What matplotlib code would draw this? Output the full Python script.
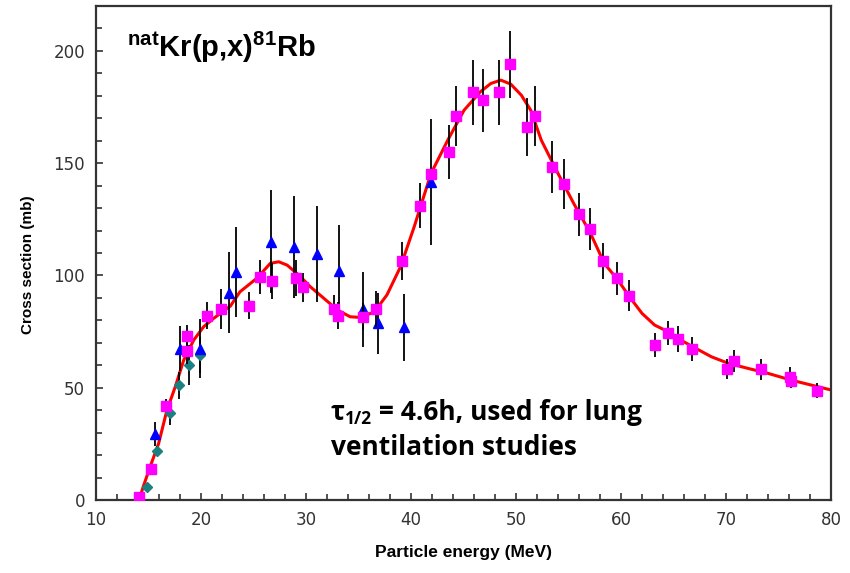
import matplotlib
matplotlib.use("Agg")
import matplotlib.pyplot as plt
from matplotlib import ticker

plt.rcParams['mathtext.fontset'] = 'custom'
plt.rcParams['mathtext.rm'] = 'Liberation Sans:bold'
plt.rcParams['mathtext.it'] = 'Liberation Sans:bold'
plt.rcParams['mathtext.bf'] = 'Liberation Sans:bold'

# magenta squares (energy MeV, cross section mb, error)
sq_x = [14.1, 15.2, 16.7, 18.7, 18.7, 20.6, 21.9, 24.6, 25.6, 26.8, 29.0, 29.7,
        32.7, 33.0, 35.4, 36.7, 39.1, 40.9, 41.9, 43.65, 44.3, 45.9, 46.9, 48.4,
        49.4, 51.0, 51.8, 53.4, 54.6, 56.0, 57.0, 58.3, 59.6, 60.8, 63.2, 64.5,
        65.4, 66.8, 70.1, 70.8, 73.3, 76.1, 76.2, 78.7]
sq_y = [1.3, 14, 42, 73, 66.5, 82, 85, 86.5, 99.4, 97.5, 99, 94.7,
        85.2, 82, 81.6, 85.2, 106.5, 131, 145, 155, 171, 181.5, 178, 181.5,
        194, 166, 171, 148.4, 140.7, 127.2, 120.7, 106.5, 98.7, 91, 69, 74.4,
        71.8, 67.2, 58.3, 61.9, 58.2, 54.8, 53, 48.7]
sq_err = [0, 2, 3, 5, 6, 6, 9, 6, 7.5, 8, 8, 6.5,
          6, 6, 6, 8, 8.5, 10, 0, 12, 13.5, 14.5, 14, 14.5,
          15, 13, 13.5, 11.5, 11, 9.6, 9.3, 8, 7.4, 7, 5.2, 5.5,
          5.8, 5.2, 4.3, 5, 4.6, 4.5, 3, 3.3]

# blue triangles
tri_x = [15.6, 18.0, 19.9, 22.7, 23.3, 26.7, 28.9, 31.0, 33.1, 35.4, 36.9, 39.3, 41.9]
tri_y = [29.4, 67.4, 67.4, 92.3, 101.7, 115, 112.8, 109.5, 102, 85, 78.7, 76.9, 141.7]
tri_err = [5.5, 10, 13, 18, 20, 23, 22.7, 21.5, 20.6, 16.7, 13.7, 15, 28]

# teal diamonds
dia_x = [14.9, 15.85, 17.0, 17.9, 18.9, 19.9]
dia_y = [5.7, 22, 38.6, 51.2, 60, 64.6]
dia_err = [1, 2, 5, 6, 9, 8]

# red fit curve
fit_x = [14.1, 14.5, 15.15, 15.95, 16.75, 17.55, 18.35, 19.3, 20.25, 21.2, 22.8,
         23.7, 25.3, 26.6, 27.4, 28.2, 29.3, 30.4, 31.7, 33.0, 34.2, 35.2, 36.5,
         37.7, 39.0, 40.3, 41.9, 43.5, 45.05, 46.6, 47.6, 48.55, 49.5, 50.5, 51.4,
         52.4, 54.0, 55.5, 57.1, 58.4, 59.7, 60.8, 62.0, 63.2, 64.5, 65.7, 66.7,
         68.6, 70.2, 72.1, 74.0, 76.2, 78.1, 80.0]
fit_y = [0, 6, 14.8, 25, 40, 50.5, 62.3, 71.2, 77.2, 80.9, 86.4,
         92.7, 98.7, 105.4, 106.1, 104.6, 100.2, 95, 89.8, 84.6, 81.6, 81.3, 83.8,
         91.3, 103.9, 121.7, 145.4, 160.3, 173.6, 181.8, 185.5, 187, 185.2, 180.3, 173.6,
         160.3, 145.4, 132, 118.7, 105.4, 98, 90.5, 83.1, 77.9, 74.9, 71.2, 68.6,
         63.8, 60.9, 58.6, 56.4, 53.4, 51.2, 49]

fig = plt.figure(figsize=(8.5, 5.73), dpi=100)
ax = fig.add_axes([0.113, 0.1274, 0.8647, 0.8621])

ax.plot(fit_x, fit_y, color='#ff0000', lw=2.2, zorder=2)
ax.errorbar(dia_x, dia_y, yerr=dia_err, fmt='D', color='#1a8080', ms=5.5,
            ecolor='black', elinewidth=1.3, capsize=0, zorder=3)
ax.errorbar(tri_x, tri_y, yerr=tri_err, fmt='^', color='#0000ff', ms=7.5,
            ecolor='black', elinewidth=1.3, capsize=0, zorder=3)
ax.errorbar(sq_x, sq_y, yerr=sq_err, fmt='s', color='#ff00ff', ms=6.5,
            ecolor='black', elinewidth=1.3, capsize=0, zorder=4)

ax.set_xlim(10, 80)
ax.set_ylim(0, 220)
ax.xaxis.set_major_locator(ticker.MultipleLocator(10))
ax.xaxis.set_minor_locator(ticker.MultipleLocator(2))
ax.yaxis.set_major_locator(ticker.MultipleLocator(50))
ax.yaxis.set_minor_locator(ticker.MultipleLocator(10))
ax.tick_params(which='both', direction='in', color='#333333', width=1.2,
               labelsize=12, labelcolor='#333333', pad=8)
ax.tick_params(which='major', length=5)
ax.tick_params(which='minor', length=4)
for lbl in ax.get_xticklabels() + ax.get_yticklabels():
    lbl.set_family('DejaVu Sans')
for s in ax.spines.values():
    s.set_color('#333333')
    s.set_linewidth(1.6)

ax.set_xlabel('Particle energy (MeV)', fontsize=12.5, fontweight='bold',
              family='Liberation Sans')
ax.set_ylabel('Cross section (mb)', fontsize=11, fontweight='bold',
              family='Liberation Sans')
ax.xaxis.set_label_coords(0.5, -0.107)
ax.yaxis.set_label_coords(-0.0925, 0.476)
ax.xaxis.label.set_va('center')
ax.yaxis.label.set_va('center')

ax.text(12.96, 197.2, r'$^{\mathrm{nat}}$Kr(p,x)$^{81}$Rb', fontsize=21,
        fontweight='bold', family='Liberation Sans', va='baseline')

fam = ['Open Sans', 'DejaVu Sans']
t1 = ax.text(32.33, 35.8, 'τ', fontsize=19, fontweight='bold', family=fam,
             va='baseline')
t2 = ax.annotate('1/2', xy=(1, 0), xycoords=t1, xytext=(0, -2),
                 textcoords='offset points', fontsize=12.5, fontweight='bold',
                 family=fam, va='bottom')
ax.annotate(' = 4.6h, used for lung', xy=(1, 0), xycoords=(t2, t1),
            fontsize=19, fontweight='bold', family=fam, va='bottom')
ax.text(32.33, 20.2, 'ventilation studies', fontsize=19, fontweight='bold',
        family=fam, va='baseline')

fig.savefig('out.png', dpi=100)
